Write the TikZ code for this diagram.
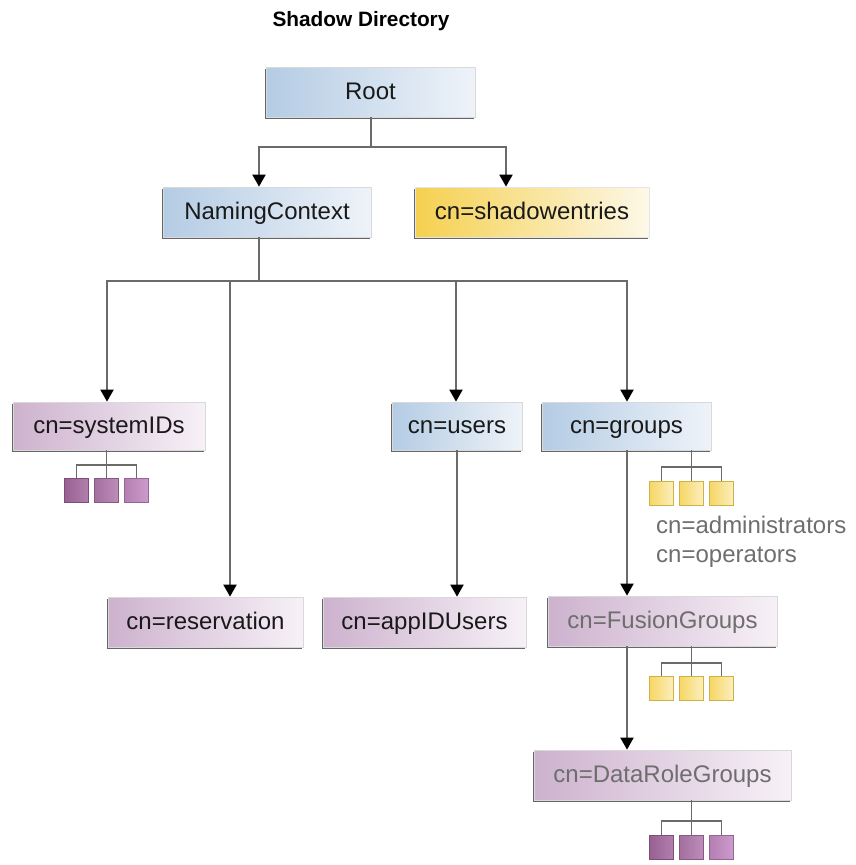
\documentclass[tikz,border=0pt]{standalone}
\usepackage{fontspec}
\setmainfont{Liberation Sans}
\usetikzlibrary{arrows.meta,shadows}

\definecolor{lineGray}{HTML}{6A6A6A}
\definecolor{textGray}{HTML}{6E6E6E}
\definecolor{blue1}{HTML}{B4CCE4}
\definecolor{blue2}{HTML}{EEF3F9}
\definecolor{gold1}{HTML}{F5D04F}
\definecolor{gold2}{HTML}{FDF8E8}
\definecolor{gold3}{HTML}{FBEFBE}
\definecolor{plum1}{HTML}{CDB2CE}
\definecolor{plum2}{HTML}{F7F1F7}
\definecolor{leafA}{HTML}{A5699F}
\definecolor{leafB}{HTML}{B279AD}
\definecolor{leafC}{HTML}{C48AC2}

\tikzset{
    box/.style={inner sep=0pt,minimum height=50pt,text=black!90,
        font=\fontsize{24}{30}\selectfont,text height=19pt,text depth=5pt,line width=.7pt,
        drop shadow={shadow xshift=-.6pt,shadow yshift=-1.5pt,fill=black,opacity=.6}},
    bluebox/.style={box,draw=black!15,left color=blue1,right color=blue2},
    goldbox/.style={box,draw=black!10,left color=gold1,right color=gold2},
    plumbox/.style={box,draw=black!15,left color=plum1,right color=plum2},
    leaf/.style={inner sep=0pt,minimum size=24pt,line width=.7pt,
        drop shadow={shadow xshift=-.5pt,shadow yshift=-1pt,fill=black,opacity=.4}},
    goldleaf/.style={leaf,draw=gold1!85!black,left color=gold1!80!gold3,right color=gold3},
    plumleaf/.style={leaf,draw=#1!75!black,left color=#1!92!black,right color=#1!85!white},
    link/.style={draw=lineGray,line width=2pt},
    linkto/.style={link,-{Triangle[length=12pt,width=13pt,black]}},
    twig/.style={draw=lineGray,line width=1.6pt},
    note/.style={anchor=base west,inner sep=0pt,text=textGray,font=\fontsize{24}{30}\selectfont},
}

\begin{document}
\begin{tikzpicture}[x=1pt,y=-1pt]
    \useasboundingbox (0,0) rectangle (855,865);

    \node (title) at (361,21) [font=\bfseries\fontsize{20.8}{26}\selectfont] {Shadow Directory};

    % top levels
    \node (root) at (370.5,92) [bluebox,minimum width=209pt] {Root};
    \node (naming) at (267,212) [bluebox,minimum width=208pt] {NamingContext};
    \node (shadow) at (532,212) [goldbox,minimum width=234pt] {cn=shadowentries};

    % containers
    \node (systemids) at (109,426) [plumbox,minimum width=192pt,minimum height=48pt] {cn=systemIDs};
    \node (users) at (457,426) [bluebox,minimum width=130pt,minimum height=48pt] {cn=users};
    \node (groups) at (626.5,426) [bluebox,minimum width=169pt,minimum height=48pt] {cn=groups};
    \node (reservation) at (205.5,622) [plumbox,minimum width=195pt] {cn=reservation};
    \node (appidusers) at (424.5,622) [plumbox,minimum width=203pt] {cn=appIDUsers};
    \node (fusion) at (662.5,621) [plumbox,minimum width=229pt,text=textGray] {cn=FusionGroups};
    \node (datarole) at (662.5,775) [plumbox,minimum width=257pt,text=textGray] {cn=DataRoleGroups};

    % small squares
    \node (sysa) at (76.5,490) [plumleaf=leafA] {};
    \node (sysb) at (106.5,490) [plumleaf=leafB] {};
    \node (sysc) at (136.5,490) [plumleaf=leafC] {};
    \node (grpa) at (661.5,493) [goldleaf] {};
    \node (grpb) at (691.5,493) [goldleaf] {};
    \node (grpc) at (721.5,493) [goldleaf] {};
    \node (fusa) at (661.5,688) [goldleaf] {};
    \node (fusb) at (691.5,688) [goldleaf] {};
    \node (fusc) at (721.5,688) [goldleaf] {};
    \node (dataa) at (661.5,847) [plumleaf=leafA] {};
    \node (datab) at (691.5,847) [plumleaf=leafB] {};
    \node (datac) at (721.5,847) [plumleaf=leafC] {};

    \node (admins) at (656,533) [note] {cn=administrators};
    \node (operators) at (656,562) [note] {cn=operators};

    % junctions
    \coordinate (rootfork) at (371,147);
    \coordinate (shadowdrop) at (506,147);
    \coordinate (namingfork) at (259,281);
    \coordinate (sysdrop) at (107,281);
    \coordinate (resdrop) at (230,281);
    \coordinate (usersdrop) at (456,281);
    \coordinate (grpdrop) at (627,281);
    \coordinate (systwig) at (106.5,465);
    \coordinate (grptwig) at (691.5,467);
    \coordinate (fustwig) at (691.5,663);
    \coordinate (datatwig) at (691.5,821);

    \draw[link] (root.south -| rootfork) -- (rootfork);
    \draw[linkto] (rootfork) -| (naming.north -| namingfork);
    \draw[linkto] (rootfork) -| (shadow.north -| shadowdrop);
    \draw[link] (naming.south -| namingfork) -- (namingfork);
    \draw[linkto] (namingfork) -| (systemids.north -| sysdrop);
    \draw[linkto] (resdrop) -- (reservation.north -| resdrop);
    \draw[linkto] (namingfork) -| (users.north -| usersdrop);
    \draw[linkto] (namingfork) -| (groups.north -| grpdrop);
    \draw[linkto] (users.south) -- (appidusers.north -| users.south);
    \draw[linkto] (groups.south -| grpdrop) -- (fusion.north -| grpdrop);
    \draw[linkto] (fusion.south -| grpdrop) -- (datarole.north -| grpdrop);

    % square groups
    \draw[twig] (systemids.south -| sysb) -- (sysb.north);
    \draw[twig] (sysa.north) |- (systwig) -| (sysc.north);
    \draw[twig] (groups.south -| grpb) -- (grpb.north);
    \draw[twig] (grpa.north) |- (grptwig) -| (grpc.north);
    \draw[twig] (fusion.south -| fusb) -- (fusb.north);
    \draw[twig] (fusa.north) |- (fustwig) -| (fusc.north);
    \draw[twig] (datarole.south -| datab) -- (datab.north);
    \draw[twig] (dataa.north) |- (datatwig) -| (datac.north);
\end{tikzpicture}
\end{document}
